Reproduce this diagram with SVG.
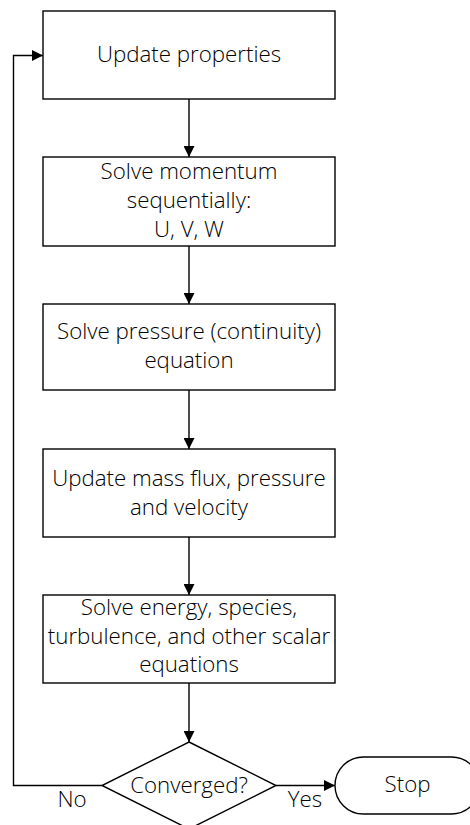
<svg xmlns="http://www.w3.org/2000/svg" width="470" height="825" viewBox="0 0 470 825">
<style>
.box{fill:#fff;stroke:#000;stroke-width:1.4}
.t{font-family:"Open Sans","Liberation Sans",sans-serif;font-weight:300;font-size:22.3px;fill:#000;text-anchor:middle}
.c{fill:none;stroke:#000;stroke-width:1.4}
</style>
<defs>
<marker id="ah" viewBox="0 0 10 10" refX="10" refY="5" markerWidth="11" markerHeight="11" markerUnits="userSpaceOnUse" orient="auto">
<path d="M0,0 L10,5 L0,10 Z" fill="#000"/>
</marker>
</defs>
<rect width="470" height="825" fill="#fff"/>
<g id="connectors">
<line class="c" x1="189" y1="99" x2="189" y2="157" marker-end="url(#ah)"/>
<line class="c" x1="189" y1="246" x2="189" y2="304" marker-end="url(#ah)"/>
<line class="c" x1="189" y1="390" x2="189" y2="449" marker-end="url(#ah)"/>
<line class="c" x1="189" y1="537" x2="189" y2="595" marker-end="url(#ah)"/>
<line class="c" x1="189" y1="683" x2="189" y2="742" marker-end="url(#ah)"/>
<polyline class="c" points="102,785.5 13.5,785.5 13.5,55.5 43,55.5" marker-end="url(#ah)"/>
<line class="c" x1="276" y1="785.5" x2="335" y2="785.5" marker-end="url(#ah)"/>
<text class="t" x="72" y="807">No</text>
<text class="t" x="305" y="807">Yes</text>
</g>
<g id="n1">
<rect class="box" x="43" y="11" width="292" height="88"/>
<text class="t" x="189" y="62">Update properties</text>
</g>
<g id="n2">
<rect class="box" x="43" y="157" width="292" height="89"/>
<text class="t" x="189" y="179">Solve momentum</text>
<text class="t" x="189" y="208">sequentially:</text>
<text class="t" x="189" y="237">U, V, W</text>
</g>
<g id="n3">
<rect class="box" x="43" y="304" width="292" height="86"/>
<text class="t" x="189" y="339">Solve pressure (continuity)</text>
<text class="t" x="189" y="368">equation</text>
</g>
<g id="n4">
<rect class="box" x="43" y="449" width="292" height="88"/>
<text class="t" x="189" y="486">Update mass flux, pressure</text>
<text class="t" x="189" y="515">and velocity</text>
</g>
<g id="n5">
<rect class="box" x="43" y="595" width="292" height="88"/>
<text class="t" x="189" y="615">Solve energy, species,</text>
<text class="t" x="189" y="644">turbulence, and other scalar</text>
<text class="t" x="189" y="672">equations</text>
</g>
<g id="decision">
<polygon class="box" points="189,742 276,785.5 189,829 102,785.5"/>
<text class="t" x="189" y="793">Converged?</text>
</g>
<g id="stop">
<rect class="box" x="335" y="757" width="145" height="57" rx="28.5" ry="28.5"/>
<text class="t" x="407.5" y="792">Stop</text>
</g>
</svg>
